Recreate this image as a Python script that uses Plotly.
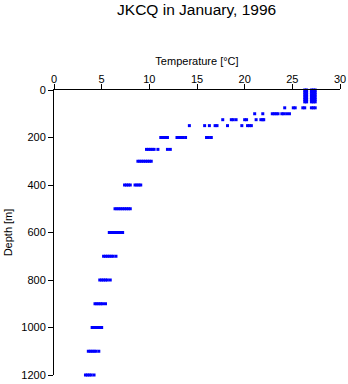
import plotly.graph_objects as go

# Depth levels [m]
depth_levels = [0, 10, 20, 30, 40, 50, 75, 100, 125, 150, 200, 250, 300,
                400, 500, 600, 700, 800, 900, 1000, 1100, 1200]

# Temperatures [°C] observed at each depth level
temps_by_depth = [
    [26.3, 26.5, 27.0, 27.2, 27.4],
    [26.3, 26.5, 27.0, 27.2, 27.4],
    [26.3, 26.5, 27.0, 27.2, 27.4],
    [26.3, 26.5, 27.0, 27.2, 27.4],
    [26.3, 26.5, 27.0, 27.2, 27.4],
    [26.3, 26.5, 27.0, 27.2, 27.4],
    [24.2, 25.1, 25.3, 26.1, 26.3, 27.0, 27.2, 27.4],
    [21.05, 21.9, 22.9, 23.1, 23.3, 23.5, 23.9, 24.1, 24.4, 24.7],
    [17.7, 18.6, 18.8, 19.1, 20.0, 20.2, 21.2, 21.7, 21.9, 22.0],
    [14.2, 15.8, 16.3, 16.9, 17.1, 18.2, 19.7, 20.3, 20.5, 20.7],
    [11.2, 11.4, 11.6, 11.9, 12.9, 13.1, 13.3, 13.5, 13.8, 16.0, 16.2, 16.5],
    [9.7, 9.9, 10.1, 10.3, 10.5, 10.9, 11.9, 12.2],
    [8.8, 9.0, 9.2, 9.4, 9.6, 9.8, 10.0, 10.2],
    [7.4, 7.6, 7.8, 8.0, 8.5, 8.7, 8.9, 9.1],
    [6.4, 6.6, 6.8, 7.0, 7.2, 7.4, 7.6, 7.8, 8.0],
    [5.8, 6.0, 6.2, 6.4, 6.6, 6.8, 7.0, 7.2],
    [5.2, 5.4, 5.6, 5.8, 6.0, 6.2, 6.5],
    [4.8, 5.0, 5.2, 5.4, 5.6, 5.9],
    [4.3, 4.5, 4.7, 4.9, 5.1, 5.4],
    [4.0, 4.2, 4.4, 4.6, 4.8, 5.0],
    [3.6, 3.8, 4.0, 4.2, 4.4, 4.7],
    [3.3, 3.5, 3.7, 3.9, 4.2],
]

x_ticks = [0, 5, 10, 15, 20, 25, 30]
y_ticks = [0, 200, 400, 600, 800, 1000, 1200]

xs, ys = [], []
for d, ts in zip(depth_levels, temps_by_depth):
    for t in ts:
        xs.append(t)
        ys.append(d)

font = "Liberation Sans, Arial, sans-serif"

fig = go.Figure(go.Scatter(
    x=xs, y=ys, mode="markers",
    marker=dict(symbol="square", size=3, color="#0000ff", line=dict(width=0)),
    cliponaxis=False, showlegend=False,
))

fig.update_layout(
    width=348, height=384,
    margin=dict(l=54, r=8, t=90, b=9),
    paper_bgcolor="white", plot_bgcolor="white",
    font=dict(family=font, size=11, color="black"),
    title=dict(text="JKCQ in January, 1996", x=0.565, xanchor="center",
               y=0.975, yanchor="middle", font=dict(size=15.5, color="black")),
)
fig.update_xaxes(
    side="top", range=[0, 30], tickvals=x_ticks, ticks="outside", ticklen=5,
    tickcolor="black", showline=True, linecolor="black", linewidth=1,
    showgrid=False, zeroline=False, automargin=False, ticklabelstandoff=-3,
    title=dict(text="Temperature [°C]", standoff=4, font=dict(size=11)),
    tickfont=dict(size=11),
)
fig.update_yaxes(
    range=[1200, 0], tickvals=y_ticks, ticks="outside", ticklen=5,
    tickcolor="black", showline=True, linecolor="black", linewidth=1,
    showgrid=False, zeroline=False, automargin=False,
    title=dict(text="Depth [m]", standoff=6, font=dict(size=11)),
    tickfont=dict(size=11),
)

fig.write_html("out.html")
